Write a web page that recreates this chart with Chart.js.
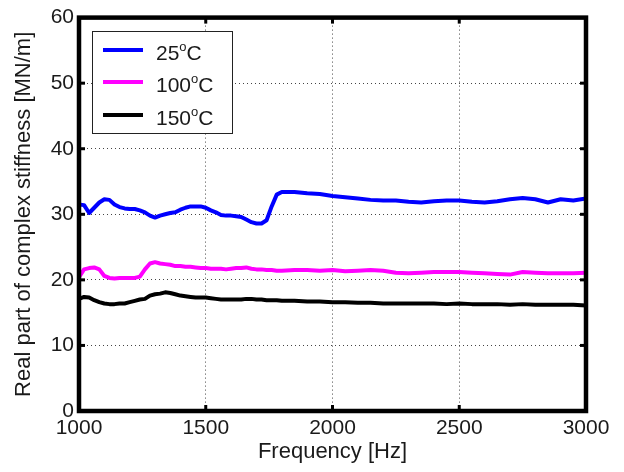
<!DOCTYPE html>
<html>
<head>
<meta charset="utf-8">
<script src="https://cdn.jsdelivr.net/npm/chart.js@4.4.1/dist/chart.umd.min.js"></script>
<style>
  html, body { margin: 0; padding: 0; background: #fff; }
  #wrap { width: 624px; height: 472px; }
</style>
</head>
<body>
<div id="wrap"><canvas id="c" width="624" height="472"></canvas></div>
<script>
const frequency = [1000,1020,1040,1060,1080,1100,1120,1140,1160,1180,1200,1220,1240,1260,1280,1300,1320,1340,1360,1380,1400,1420,1440,1460,1480,1500,1520,1540,1560,1580,1600,1620,1640,1660,1680,1700,1720,1740,1760,1780,1800,1850,1900,1950,2000,2050,2100,2150,2200,2250,2300,2350,2400,2450,2500,2550,2600,2650,2700,2750,2800,2850,2900,2950,3000];

const stiffness25 = [31.5,31.4,30.2,31.0,31.8,32.3,32.2,31.5,31.1,30.9,30.8,30.8,30.6,30.3,29.8,29.5,29.8,30.0,30.2,30.3,30.7,31.0,31.2,31.2,31.2,31.0,30.6,30.3,29.9,29.8,29.8,29.7,29.6,29.2,28.8,28.6,28.6,29.1,31.2,33.0,33.4,33.4,33.2,33.1,32.8,32.6,32.4,32.2,32.1,32.1,31.9,31.8,32.0,32.1,32.1,31.9,31.8,32.0,32.3,32.5,32.3,31.8,32.3,32.1,32.4];

const stiffness100 = [20.4,21.6,21.8,21.9,21.6,20.6,20.3,20.2,20.3,20.3,20.3,20.3,20.5,21.6,22.5,22.7,22.5,22.4,22.3,22.1,22.1,22.0,22.0,21.9,21.8,21.8,21.7,21.7,21.7,21.6,21.7,21.8,21.8,21.9,21.7,21.6,21.6,21.5,21.5,21.4,21.4,21.5,21.5,21.4,21.5,21.3,21.4,21.5,21.4,21.1,21.0,21.1,21.2,21.2,21.2,21.1,21.0,20.9,20.8,21.2,21.1,21.0,21.0,21.0,21.1];

const stiffness150 = [17.1,17.4,17.3,16.9,16.6,16.4,16.3,16.3,16.4,16.4,16.6,16.8,17.0,17.1,17.6,17.8,17.9,18.1,18.0,17.8,17.6,17.5,17.4,17.3,17.3,17.3,17.2,17.1,17.0,17.0,17.0,17.0,17.0,17.1,17.1,17.0,17.0,16.9,16.9,16.9,16.8,16.8,16.7,16.7,16.6,16.6,16.5,16.5,16.4,16.4,16.4,16.4,16.4,16.3,16.4,16.3,16.3,16.3,16.2,16.3,16.2,16.2,16.2,16.2,16.1];

const temperatures = ['25', '100', '150'];
const seriesColors = ['#0000ff', '#ff00ff', '#000000'];
const xTicks = [1000, 1500, 2000, 2500, 3000];
const yTicks = [0, 10, 20, 30, 40, 50, 60];

const FONT = '"Liberation Sans", Arial, sans-serif';
const TEXT = '#1a1a1a';

function pts(vals) { return frequency.map((f, i) => ({ x: f, y: vals[i] })); }
const seriesValues = [stiffness25, stiffness100, stiffness150];

const framePlugin = {
  id: 'frame',
  afterDatasetsDraw(chart) {
    const { ctx, chartArea: a, scales: { x, y } } = chart;
    ctx.save();
    ctx.fillStyle = '#000';
    xTicks.slice(1, -1).forEach(v => {
      const px = x.getPixelForValue(v);
      ctx.fillRect(px - 1.5, a.bottom - 6, 3, 6);
      ctx.fillRect(px - 1.5, a.top, 3, 6);
    });
    yTicks.slice(1, -1).forEach(v => {
      const py = y.getPixelForValue(v);
      ctx.fillRect(a.left, py - 1.5, 6, 3);
      ctx.fillRect(a.right - 6, py - 1.5, 6, 3);
    });
    ctx.strokeStyle = '#000';
    ctx.lineWidth = 4.5;
    ctx.strokeRect(a.left, a.top, a.right - a.left, a.bottom - a.top);

    const bx = 92.5, by = 31.5, bw = 140, bh = 102;
    ctx.fillStyle = '#fff';
    ctx.fillRect(bx, by, bw, bh);
    ctx.lineWidth = 1;
    ctx.strokeStyle = '#222';
    ctx.strokeRect(bx, by, bw, bh);
    const rows = [50, 82, 115];
    temperatures.forEach((t, i) => {
      const ry = rows[i];
      ctx.strokeStyle = seriesColors[i];
      ctx.lineWidth = 4;
      ctx.beginPath();
      ctx.moveTo(103, ry);
      ctx.lineTo(143, ry);
      ctx.stroke();
      ctx.fillStyle = TEXT;
      ctx.textBaseline = 'alphabetic';
      ctx.textAlign = 'left';
      ctx.font = '21px ' + FONT;
      let tx = 156;
      ctx.fillText(t, tx, ry + 10);
      tx += ctx.measureText(t).width;
      ctx.font = '13px ' + FONT;
      ctx.fillText('o', tx, ry + 1);
      tx += ctx.measureText('o').width;
      ctx.font = '21px ' + FONT;
      ctx.fillText('C', tx, ry + 10);
    });
    ctx.restore();
  }
};

new Chart(document.getElementById('c'), {
  type: 'line',
  data: {
    datasets: seriesValues.map((vals, i) => ({
      label: temperatures[i] + '°C',
      data: pts(vals),
      borderColor: seriesColors[i],
      backgroundColor: seriesColors[i],
      borderWidth: 4,
      pointRadius: 0,
      tension: 0,
      borderJoinStyle: 'round',
      borderCapStyle: 'round',
      fill: false
    }))
  },
  options: {
    responsive: false,
    animation: false,
    devicePixelRatio: 1,
    layout: { padding: { top: 14, right: 38, bottom: 0, left: 0 } },
    plugins: { legend: { display: false }, tooltip: { enabled: false } },
    scales: {
      x: {
        type: 'linear',
        min: 1000, max: 3000,
        afterFit: s => { s.height = 61; },
        afterBuildTicks: s => { s.ticks = xTicks.map(v => ({ value: v })); },
        ticks: { color: TEXT, font: { family: FONT, size: 21 }, padding: 5, maxRotation: 0, callback: v => String(v) },
        grid: {
          color: c => (c.tick && (c.tick.value === 1000 || c.tick.value === 3000)) ? 'rgba(0,0,0,0)' : '#444',
          lineWidth: 1, drawTicks: false
        },
        border: { display: false, dash: [1, 3] },
        title: { display: true, text: 'Frequency [Hz]', color: TEXT, font: { family: FONT, size: 22 }, padding: { top: 0, bottom: 7 } }
      },
      y: {
        type: 'linear',
        min: 0, max: 60,
        afterFit: s => { s.width = 79; },
        afterBuildTicks: s => { s.ticks = yTicks.map(v => ({ value: v })); },
        ticks: { color: TEXT, font: { family: FONT, size: 21 }, padding: 5, callback: v => String(v) },
        grid: {
          color: c => (c.tick && (c.tick.value === 0 || c.tick.value === 60)) ? 'rgba(0,0,0,0)' : '#444',
          lineWidth: 1, drawTicks: false
        },
        border: { display: false, dash: [1, 3] },
        title: { display: true, text: 'Real part of complex stiffness [MN/m]', color: TEXT, font: { family: FONT, size: 22 }, padding: { top: 11, bottom: 0 } }
      }
    }
  },
  plugins: [framePlugin]
});
</script>
</body>
</html>
